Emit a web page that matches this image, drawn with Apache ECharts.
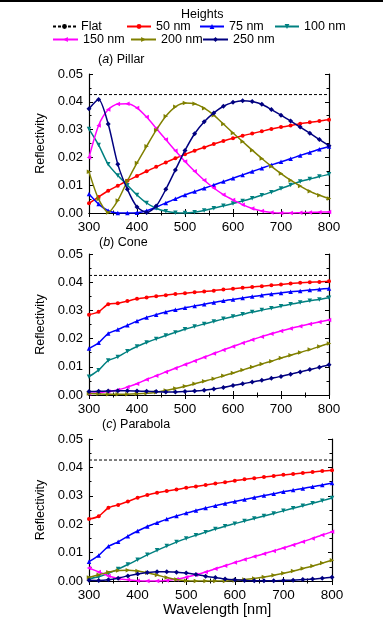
<!DOCTYPE html>
<html>
<head>
<meta charset="utf-8">
<script src="https://cdn.jsdelivr.net/npm/echarts@6/dist/echarts.min.js"></script>
<style>
html,body{margin:0;padding:0;background:#fff;}
#chart{width:383px;height:624px;}
</style>
</head>
<body>
<div id="chart"></div>
<script>
// ---------- data ----------
const wavelengths = [300,320,340,360,380,400,420,440,460,480,500,520,540,560,580,600,620,640,660,680,700,720,740,760,780,800];
const seriesNames = ['Flat','50 nm','75 nm','100 nm','150 nm','200 nm','250 nm'];
const xTicks = [300,400,500,600,700,800];
const yTicks = [0.00,0.01,0.02,0.03,0.04,0.05];

// (a) Pillar
const flatPillar = 0.0426;
const pillar50  = [0.0035,0.0058,0.0080,0.0098,0.0116,0.0133,0.0150,0.0166,0.0182,0.0197,0.0211,0.0224,0.0236,0.0248,0.0259,0.0269,0.0278,0.0286,0.0294,0.0302,0.0309,0.0315,0.0321,0.0326,0.0331,0.0335];
const pillar75  = [0.0068,0.0032,0.0008,0.0000,0.0000,0.0001,0.0008,0.0021,0.0036,0.0051,0.0065,0.0077,0.0089,0.0101,0.0113,0.0125,0.0137,0.0149,0.0161,0.0173,0.0184,0.0195,0.0207,0.0218,0.0229,0.0239];
const pillar100 = [0.0302,0.0245,0.0175,0.0135,0.0100,0.0065,0.0036,0.0017,0.0006,0.0001,0.0000,0.0003,0.0009,0.0017,0.0026,0.0034,0.0043,0.0053,0.0064,0.0075,0.0088,0.0101,0.0113,0.0122,0.0131,0.0139];
const pillar150 = [0.0200,0.0315,0.0372,0.0392,0.0393,0.0378,0.0345,0.0305,0.0264,0.0224,0.0185,0.0150,0.0118,0.0090,0.0066,0.0047,0.0030,0.0016,0.0007,0.0002,0.0000,0.0000,0.0001,0.0002,0.0003,0.0004];
const pillar200 = [0.0148,0.0050,0.0002,0.0045,0.0115,0.0180,0.0240,0.0298,0.0348,0.0382,0.0396,0.0393,0.0377,0.0352,0.0320,0.0288,0.0257,0.0226,0.0196,0.0168,0.0142,0.0118,0.0097,0.0078,0.0064,0.0052];
const pillar250 = [0.0375,0.0408,0.0320,0.0175,0.0085,0.0022,0.0002,0.0025,0.0085,0.0155,0.0225,0.0285,0.0328,0.0360,0.0384,0.0398,0.0404,0.0401,0.0391,0.0372,0.0352,0.0331,0.0309,0.0287,0.0264,0.0242];

// (b) Cone
const flatCone = 0.0424;
const cone50  = [0.0285,0.0295,0.0322,0.0325,0.0333,0.0341,0.0346,0.0350,0.0354,0.0358,0.0361,0.0364,0.0367,0.0370,0.0374,0.0377,0.0380,0.0383,0.0386,0.0389,0.0392,0.0395,0.0398,0.0400,0.0401,0.0403];
const cone75  = [0.0165,0.0185,0.0218,0.0232,0.0247,0.0262,0.0275,0.0285,0.0294,0.0302,0.0309,0.0316,0.0322,0.0328,0.0334,0.0339,0.0344,0.0349,0.0354,0.0358,0.0362,0.0366,0.0369,0.0372,0.0375,0.0378];
const cone100 = [0.0065,0.0088,0.0122,0.0135,0.0155,0.0172,0.0186,0.0199,0.0211,0.0222,0.0233,0.0243,0.0252,0.0261,0.0270,0.0278,0.0286,0.0294,0.0301,0.0308,0.0315,0.0322,0.0328,0.0334,0.0339,0.0345];
const cone150 = [0.0005,0.0008,0.0012,0.0018,0.0028,0.0040,0.0055,0.0068,0.0082,0.0095,0.0108,0.0121,0.0134,0.0147,0.0160,0.0172,0.0184,0.0196,0.0207,0.0217,0.0227,0.0236,0.0244,0.0252,0.0259,0.0266];
const cone200 = [0.0005,0.0004,0.0003,0.0003,0.0003,0.0004,0.0006,0.0010,0.0016,0.0023,0.0031,0.0040,0.0049,0.0058,0.0068,0.0078,0.0089,0.0099,0.0110,0.0120,0.0131,0.0141,0.0151,0.0161,0.0172,0.0183];
const cone250 = [0.0012,0.0013,0.0014,0.0015,0.0015,0.0014,0.0013,0.0012,0.0011,0.0011,0.0012,0.0014,0.0017,0.0021,0.0027,0.0034,0.0040,0.0046,0.0052,0.0059,0.0066,0.0074,0.0082,0.0090,0.0098,0.0107];

// (c) Parabola
const flatParabola = 0.0426;
const parabola50  = [0.0218,0.0228,0.0258,0.0268,0.0280,0.0293,0.0303,0.0311,0.0317,0.0322,0.0328,0.0333,0.0338,0.0343,0.0348,0.0353,0.0358,0.0362,0.0366,0.0370,0.0374,0.0377,0.0380,0.0384,0.0387,0.0390];
const parabola75  = [0.0068,0.0090,0.0122,0.0138,0.0158,0.0176,0.0192,0.0205,0.0218,0.0229,0.0239,0.0248,0.0257,0.0265,0.0273,0.0280,0.0287,0.0294,0.0301,0.0307,0.0314,0.0320,0.0326,0.0332,0.0338,0.0345];
const parabola100 = [0.0008,0.0015,0.0027,0.0042,0.0058,0.0075,0.0092,0.0108,0.0123,0.0137,0.0150,0.0161,0.0172,0.0183,0.0193,0.0202,0.0211,0.0220,0.0229,0.0238,0.0247,0.0256,0.0265,0.0274,0.0283,0.0292];
const parabola150 = [0.0046,0.0032,0.0018,0.0009,0.0004,0.0001,0.0000,0.0000,0.0002,0.0006,0.0013,0.0022,0.0032,0.0043,0.0054,0.0065,0.0076,0.0086,0.0096,0.0106,0.0116,0.0127,0.0138,0.0150,0.0162,0.0173];
const parabola200 = [0.0012,0.0022,0.0031,0.0037,0.0038,0.0035,0.0029,0.0021,0.0012,0.0005,0.0001,0.0000,0.0000,0.0000,0.0000,0.0002,0.0005,0.0009,0.0014,0.0020,0.0027,0.0035,0.0044,0.0053,0.0063,0.0073];
const parabola250 = [0.0003,0.0002,0.0004,0.0010,0.0018,0.0025,0.0030,0.0033,0.0033,0.0031,0.0028,0.0023,0.0017,0.0012,0.0007,0.0004,0.0002,0.0001,0.0001,0.0001,0.0002,0.0003,0.0005,0.0007,0.0010,0.0013];

// ---------- styling ----------
const FONT = "'Liberation Sans', Arial, Helvetica, sans-serif";
const styles = {
  '50 nm':  {color:'#ff0000', symbol:'circle', size:4, rotate:0},
  '75 nm':  {color:'#0000ff', symbol:'triangle', size:4.5, rotate:0},
  '100 nm': {color:'#008080', symbol:'triangle', size:4.5, rotate:180},
  '150 nm': {color:'#ff00ff', symbol:'triangle', size:4.5, rotate:90},
  '200 nm': {color:'#808000', symbol:'triangle', size:4.5, rotate:-90},
  '250 nm': {color:'#000080', symbol:'diamond', size:5, rotate:0}
};

const panels = [
  {title:'({i|a}) Pillar', titleLeft:98, titleTop:53, grid:{left:89, top:74, width:240, height:139}, flat:flatPillar,
   values:[pillar50,pillar75,pillar100,pillar150,pillar200,pillar250]},
  {title:'({i|b}) Cone', titleLeft:99, titleTop:236, grid:{left:89, top:254, width:240, height:141}, flat:flatCone,
   values:[cone50,cone75,cone100,cone150,cone200,cone250]},
  {title:'({i|c}) Parabola', titleLeft:102, titleTop:418, grid:{left:89, top:439, width:243, height:142}, flat:flatParabola,
   values:[parabola50,parabola75,parabola100,parabola150,parabola200,parabola250]}
];

const axisLine = {show:true, lineStyle:{color:'#000', width:1.2}};
const grids = [], xAxes = [], yAxes = [], series = [], titles = [];

panels.forEach((p, gi) => {
  grids.push(Object.assign({containLabel:false}, p.grid));
  titles.push({
    text: p.title, left: p.titleLeft, top: p.titleTop, padding:0,
    textStyle:{fontFamily:FONT, fontSize:12.5, fontWeight:'normal', color:'#000',
      rich:{i:{fontStyle:'italic', fontFamily:FONT, fontSize:12.5, color:'#000'}}}
  });
  const xCommon = {type:'value', gridIndex:gi, min:xTicks[0], max:xTicks[xTicks.length-1], interval:100,
    axisLine, splitLine:{show:false},
    axisTick:{show:true, inside:true, length:4, lineStyle:{color:'#000', width:1}},
    minorTick:{show:true, splitNumber:2, length:2.5, lineStyle:{color:'#000', width:1}}};
  xAxes.push(Object.assign({}, xCommon, {position:'bottom',
    axisLabel:{show:true, margin:7, fontFamily:FONT, fontSize:13.5, color:'#000'}}));
  xAxes.push(Object.assign({}, xCommon, {position:'top', axisLabel:{show:false}}));
  const yCommon = {type:'value', gridIndex:gi, min:yTicks[0], max:yTicks[yTicks.length-1], interval:0.01,
    axisLine, splitLine:{show:false},
    axisTick:{show:true, inside:true, length:4, lineStyle:{color:'#000', width:1}},
    minorTick:{show:true, splitNumber:2, length:2.5, lineStyle:{color:'#000', width:1}}};
  yAxes.push(Object.assign({}, yCommon, {position:'left',
    name:'Reflectivity', nameLocation:'middle', nameGap:30, nameRotate:90,
    nameTextStyle:{fontFamily:FONT, fontSize:12.5, color:'#000'},
    axisLabel:{show:true, margin:6, fontFamily:FONT, fontSize:13, color:'#000',
      formatter:(v)=>v.toFixed(2)}}));
  yAxes.push(Object.assign({}, yCommon, {position:'right', axisLabel:{show:false}}));

  // flat reference
  series.push({
    name:'Flat', type:'line', xAxisIndex:gi*2, yAxisIndex:gi*2,
    data:[[xTicks[0], p.flat],[xTicks[xTicks.length-1], p.flat]],
    symbol:'none', lineStyle:{color:'#000', width:1, type:[3,2]}, itemStyle:{color:'#000'},
    silent:true, z:3
  });
  p.values.forEach((vals, si) => {
    const name = seriesNames[si+1];
    const st = styles[name];
    series.push({
      name, type:'line', xAxisIndex:gi*2, yAxisIndex:gi*2,
      data: wavelengths.map((w,i)=>[w, vals[i]]),
      smooth:0.25,
      symbol: st.symbol, symbolSize: st.size, symbolRotate: st.rotate, showSymbol:true,
      lineStyle:{color:st.color, width:1.5}, itemStyle:{color:st.color},
      silent:true, z:2+si*0.01
    });
  });
});

// legend: one small legend per entry, positioned like the reference
const legendPos = [
  {name:'Flat',   left:52,  top:20, w:23},
  {name:'50 nm',  left:126, top:20, w:24},
  {name:'75 nm',  left:199, top:20, w:24},
  {name:'100 nm', left:274, top:20, w:24},
  {name:'150 nm', left:52,  top:33, w:25},
  {name:'200 nm', left:130, top:33, w:25},
  {name:'250 nm', left:202, top:33, w:25}
];
const legends = legendPos.map(l => ({
  data:[l.name], left:l.left, top:l.top, padding:0, itemGap:0,
  itemWidth:l.w, itemHeight:6, selectedMode:false,
  textStyle:{fontFamily:FONT, fontSize:12.5, color:'#000'}
}));

const chart = echarts.init(document.getElementById('chart'), null, {renderer:'canvas'});
chart.setOption({
  backgroundColor:'#ffffff',
  animation:false,
  title: titles,
  legend: legends,
  grid: grids,
  xAxis: xAxes,
  yAxis: yAxes,
  series,
  graphic:[
    {type:'rect', left:0, top:0, shape:{width:383, height:2}, style:{fill:'#000'}, silent:true},
    {type:'text', left:181, top:8, style:{text:'Heights', fontFamily:FONT, fontSize:12.5, fill:'#000'}, silent:true},
    {type:'text', left:163, top:602, style:{text:'Wavelength [nm]', fontFamily:FONT, fontSize:14.5, fill:'#000'}, silent:true}
  ]
});
</script>
</body>
</html>
